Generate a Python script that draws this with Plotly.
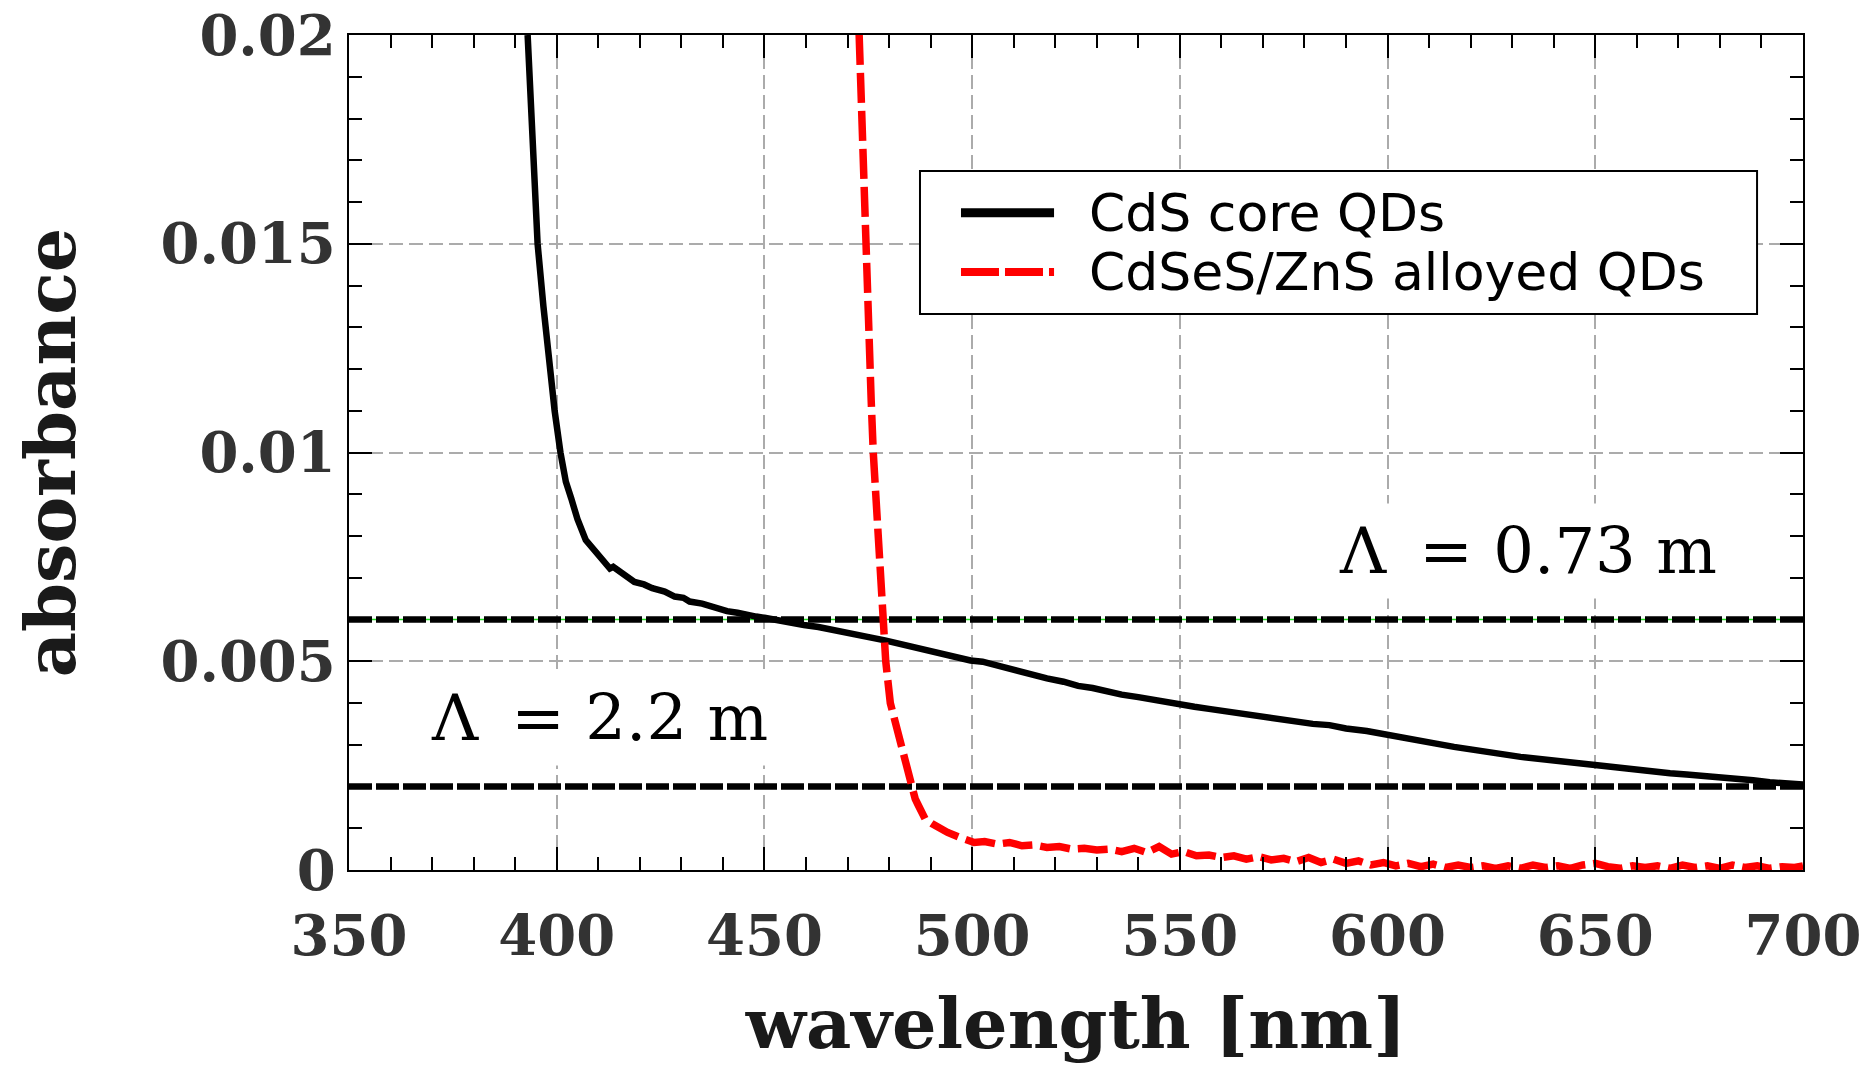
import plotly.graph_objects as go

# Axis extents and tick labels
X_RANGE = [350, 700]
Y_RANGE = [0, 0.02]
x_tick_values = [350, 400, 450, 500, 550, 600, 650, 700]
x_tick_labels = ["350", "400", "450", "500", "550", "600", "650", "700"]
y_tick_values = [0, 0.005, 0.01, 0.015, 0.02]
y_tick_labels = ["0", "0.005", "0.01", "0.015", "0.02"]

# Series names
series_names = ["CdS core QDs", "CdSeS/ZnS alloyed QDs"]

# CdS core QDs absorbance spectrum
cds_wavelength = [
    393.0, 394.2, 395.4, 396.8, 398.3, 399.5, 400.9, 402.2, 403.5, 405.0,
    407.0, 409.5, 411.5, 412.8, 413.6, 415.5, 417.2, 418.7, 421.0, 423.0,
    426.0, 428.4, 430.5, 432.0, 435.0, 436.9, 439.0, 441.0, 443.5, 445.5,
    448.0, 450.0, 453.0, 456.2, 459.5, 463.0, 466.5, 470.1, 473.0, 476.0,
    479.0, 481.9, 486.0, 490.0, 495.0, 499.6, 502.5, 505.0, 508.5, 512.0,
    515.0, 518.0, 522.0, 525.5, 529.0, 532.0, 536.0, 540.0, 545.0, 550.0,
    553.5, 557.0, 561.0, 565.0, 570.0, 575.0, 578.5, 582.0, 586.0, 590.0,
    595.0, 600.0, 604.0, 608.0, 612.0, 616.0, 620.0, 624.5, 628.0, 632.0,
    636.5, 641.0, 645.5, 650.0, 655.0, 660.0, 664.0, 668.0, 672.0, 676.0,
    680.0, 684.0, 688.0, 692.0, 696.0, 700.0,
]
cds_absorbance = [
    0.0200, 0.0175, 0.0150, 0.0135, 0.0120, 0.0110, 0.0100, 0.0093, 0.0089, 0.0084,
    0.0079, 0.0076, 0.00735, 0.00722, 0.00726, 0.00712, 0.00700, 0.00690, 0.00684, 0.00675,
    0.00667, 0.00655, 0.00652, 0.00643, 0.00638, 0.00631, 0.00627, 0.00620, 0.00616, 0.00611,
    0.00607, 0.00604, 0.00598, 0.00595, 0.00587, 0.00582, 0.00576, 0.00567, 0.00563, 0.00556,
    0.00550, 0.00543, 0.00535, 0.00524, 0.00515, 0.00502, 0.00499, 0.00492, 0.00484, 0.00474,
    0.00468, 0.00459, 0.00451, 0.00441, 0.00436, 0.00428, 0.00420, 0.00414, 0.00404, 0.00397,
    0.00391, 0.00386, 0.00380, 0.00374, 0.00368, 0.00361, 0.00357, 0.00350, 0.00347, 0.00339,
    0.00333, 0.00325, 0.00318, 0.00310, 0.00302, 0.00295, 0.00288, 0.00281, 0.00277, 0.00271,
    0.00266, 0.00260, 0.00255, 0.00249, 0.00244, 0.00239, 0.00236, 0.00232, 0.00229, 0.00226,
    0.00223, 0.00219, 0.00215, 0.00210, 0.00208, 0.00205,
]

# CdSeS/ZnS alloyed QDs absorbance spectrum
alloy_wavelength = [
    472.8, 474.2, 475.7, 476.2, 477.3, 478.5, 479.2, 480.3, 481.3, 482.3,
    483.5, 484.5, 485.5, 486.3, 487.1, 488.7, 490.5, 492.0, 494.1, 497.0,
    500.5, 503, 506, 509, 512, 515, 518, 521, 524, 527,
    530, 533, 536, 539, 542, 545, 548, 551, 554, 557,
    560, 563, 566, 569, 572, 575, 578, 581, 584, 587,
    590, 593, 596, 599, 602, 605, 608, 611, 614, 617,
    620, 623, 626, 629, 632, 635, 638, 641, 644, 647,
    650, 653, 656, 659, 662, 665, 668, 671, 674, 677,
    680, 683, 686, 689, 692, 695, 698, 700,
]
alloy_absorbance = [
    0.0200, 0.0150, 0.01125, 0.0100, 0.0080, 0.0060, 0.0050, 0.0040, 0.0036, 0.00326,
    0.0027, 0.0023, 0.0020, 0.0017, 0.00154, 0.00122, 0.0011, 0.0010, 0.0009, 0.00078,
    0.00066, 0.00068, 0.00062, 0.00066, 0.00058, 0.00060, 0.00054, 0.00056, 0.00050, 0.00052,
    0.00048, 0.00050, 0.00044, 0.00052, 0.00042, 0.00056, 0.00038, 0.00044, 0.00034, 0.00036,
    0.00030, 0.00034, 0.00026, 0.00032, 0.00024, 0.00028, 0.00020, 0.00030, 0.00018, 0.00026,
    0.00016, 0.00022, 0.00012, 0.00018, 0.00010, 0.00016, 0.00008, 0.00014, 0.00006, 0.00012,
    0.00006, 0.00010, 0.00004, 0.00010, 0.00004, 0.00012, 0.00006, 0.00010, 0.00004, 0.00012,
    0.00016, 0.00008, 0.00004, 0.00010, 0.00006, 0.00010, 0.00004, 0.00012, 0.00006, 0.00010,
    0.00004, 0.00012, 0.00006, 0.00010, 0.00004, 0.00008, 0.00006, 0.00010,
]

# Absorbance thresholds and their attenuation-length labels
threshold_levels = [0.006, 0.002]
threshold_labels = ["Λ\u2009 = 0.73 m", "Λ\u2009 = 2.2 m"]

SERIF = "DejaVu Serif"
SANS = "DejaVu Sans"

fig = go.Figure()

# thin green guide under the upper threshold
fig.add_trace(go.Scatter(
    x=X_RANGE, y=[threshold_levels[0]] * 2, mode="lines",
    line=dict(color="#22dd22", width=1.5), hoverinfo="skip", showlegend=False,
))

fig.add_trace(go.Scatter(
    x=cds_wavelength, y=cds_absorbance, mode="lines", name=series_names[0],
    line=dict(color="black", width=6.5), showlegend=False,
))

for level in threshold_levels:
    fig.add_trace(go.Scatter(
        x=X_RANGE, y=[level, level], mode="lines",
        line=dict(color="black", width=6.5, dash="23px,4px"),
        hoverinfo="skip", showlegend=False,
    ))

fig.add_trace(go.Scatter(
    x=alloy_wavelength, y=alloy_absorbance, mode="lines", name=series_names[1],
    line=dict(color="#ff0000", width=7.5, dash="30px,8px"), showlegend=False,
))

# threshold labels
label_font = dict(family=SERIF, size=64, color="black")
fig.add_annotation(
    x=682, y=0.00764, xref="x", yref="y", text=threshold_labels[0],
    xanchor="right", yanchor="middle", showarrow=False,
    font=label_font, bgcolor="white", borderpad=10,
)
fig.add_annotation(
    x=367, y=0.00363, xref="x", yref="y", text=threshold_labels[1],
    xanchor="left", yanchor="middle", showarrow=False,
    font=label_font, bgcolor="white", borderpad=10,
)

# legend box drawn by hand
fig.add_shape(type="rect", xref="paper", yref="paper",
              x0=0.3927, x1=0.9684, y0=0.6659, y1=0.8371,
              fillcolor="white", line=dict(color="black", width=2), layer="above")
fig.add_shape(type="line", xref="paper", yref="paper",
              x0=0.4209, x1=0.4849, y0=0.7872, y1=0.7872,
              line=dict(color="black", width=9), layer="above")
fig.add_shape(type="line", xref="paper", yref="paper",
              x0=0.4209, x1=0.4849, y0=0.7162, y1=0.7162,
              line=dict(color="#ff0000", width=8, dash="38px,6px"), layer="above")
for name, ypos in zip(series_names, [0.7872, 0.7162]):
    fig.add_annotation(
        x=0.5075, y=ypos, xref="paper", yref="paper", text=name,
        xanchor="left", yanchor="middle", showarrow=False,
        font=dict(family=SANS, size=52, color="black"),
    )

tick_font = dict(family=SERIF, size=56, color="#333333", weight="bold")
title_font = dict(family=SERIF, size=70, color="#1a1a1a", weight="bold")
grid = dict(showgrid=True, gridcolor="#ababab", griddash="14px,6px", gridwidth=1.5)

fig.update_xaxes(
    range=X_RANGE, tickvals=x_tick_values, ticktext=x_tick_labels,
    ticks="inside", ticklen=23, tickwidth=2, tickcolor="black",
    showline=True, linecolor="black", linewidth=2, mirror="ticks",
    minor=dict(tick0=350, dtick=10, ticks="inside", ticklen=13,
               tickwidth=1.5, tickcolor="black", showgrid=False),
    tickfont=tick_font, ticklabelstandoff=16, zeroline=False, automargin=False,
    title=dict(text="wavelength [nm]", font=title_font, standoff=32),
    **grid,
)
fig.update_yaxes(
    range=Y_RANGE, tickvals=y_tick_values, ticktext=y_tick_labels,
    ticks="inside", ticklen=23, tickwidth=2, tickcolor="black",
    showline=True, linecolor="black", linewidth=2, mirror="ticks",
    minor=dict(tick0=0, dtick=0.001, ticks="inside", ticklen=13,
               tickwidth=1.5, tickcolor="black", showgrid=False),
    tickfont=tick_font, ticklabelstandoff=0, zeroline=False, automargin=False,
    title=dict(text="absorbance", font=title_font, standoff=62),
    **grid,
)

fig.update_layout(
    width=1873, height=1069,
    margin=dict(l=349, r=70, t=35, b=199),
    plot_bgcolor="white", paper_bgcolor="white",
    showlegend=False,
)

fig.write_html("out.html")
